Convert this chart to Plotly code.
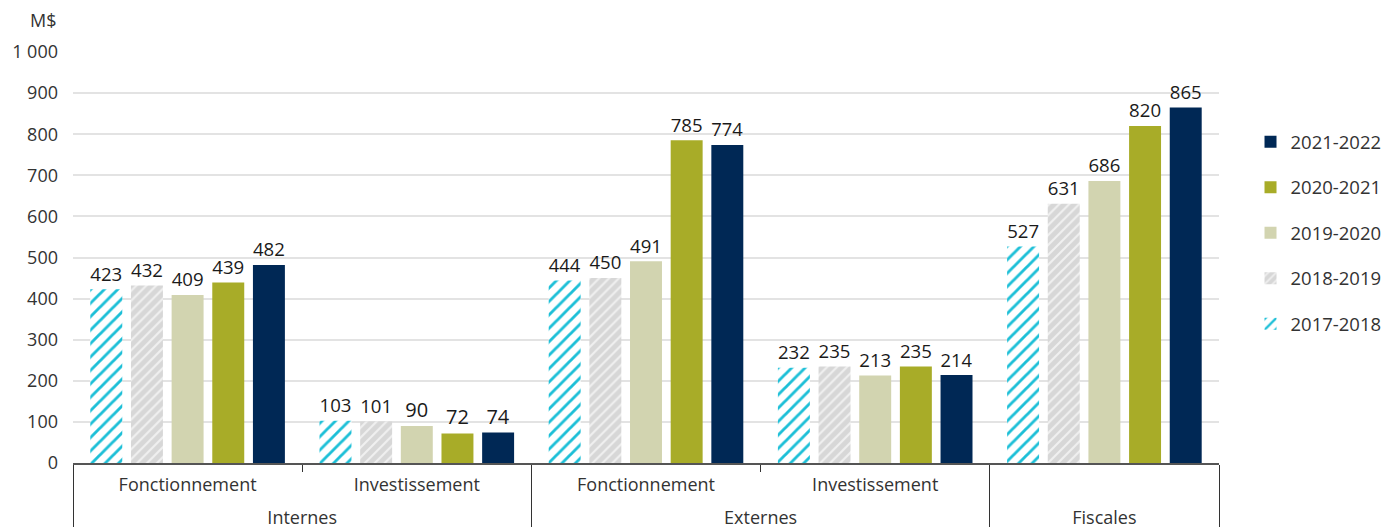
import plotly.graph_objects as go

groups = ["Internes", "Internes", "Externes", "Externes", "Fiscales"]
subcats = ["Fonctionnement", "Investissement", "Fonctionnement", "Investissement",
           "<span style='font-size:26px'>\u00a0</span>"]

series_names = ["2017-2018", "2018-2019", "2019-2020", "2020-2021", "2021-2022"]
v2017 = [423, 103, 444, 232, 527]
v2018 = [432, 101, 450, 235, 631]
v2019 = [409, 90, 491, 213, 686]
v2020 = [439, 72, 785, 235, 820]
v2021 = [482, 74, 774, 214, 865]
values = [v2017, v2018, v2019, v2020, v2021]

y_ticks = [0, 100, 200, 300, 400, 500, 600, 700, 800, 900, 1000]
y_ticktext = ["0", "100", "200", "300", "400", "500", "600", "700", "800", "900", "1 000"]

styles = [
    dict(color="white", pattern=dict(shape="/", fgcolor="#1CBFD7", bgcolor="white", size=9.5, solidity=0.3, fillmode="replace")),
    dict(color="#D9D9D9", pattern=dict(shape="/", fgcolor="#F0F0F0", bgcolor="#D7D7D7", size=7, solidity=0.3, fillmode="replace")),
    dict(color="#D2D4B0"),
    dict(color="#A8AC28"),
    dict(color="#002855"),
]

FONT = "Open Sans, Noto Sans, sans-serif"

fig = go.Figure()
for i, (name, vals) in enumerate(zip(series_names, values)):
    fig.add_trace(go.Bar(
        name=name,
        x=[groups, subcats],
        y=vals,
        marker=styles[i],
        marker_line=dict(width=10, color="rgba(0,0,0,0)"),
        text=[str(v) for v in vals],
        textposition="outside",
        textfont=dict(size=20, color="#1a1a1a", family=FONT),
        cliponaxis=False,
        legendgroup=name,
        legendrank=len(series_names) - i,
    ))

fig.update_layout(
    width=1384, height=527,
    margin=dict(l=73, r=165, t=52, b=64, autoexpand=False),
    paper_bgcolor="white", plot_bgcolor="white",
    barmode="group", bargap=0.113, bargroupgap=0.214,
    font=dict(family=FONT, size=18, color="#333333"),
    showlegend=True,
    legend=dict(x=1.0275, y=0.827, xanchor="left", yanchor="top",
                traceorder="grouped", tracegroupgap=18.5,
                font=dict(size=18.5, color="#333333"), itemwidth=30),
)
fig.update_yaxes(range=[0, 1000], tickvals=y_ticks, ticktext=y_ticktext,
                 showgrid=True, gridcolor="#E3E3E3", gridwidth=1.5,
                 zeroline=False, showline=False, ticks="", ticklabelstandoff=14,
                 tickfont=dict(size=18, color="#333333"), automargin=False)
fig.update_xaxes(type="multicategory", showline=True, linecolor="#555555", linewidth=1.5,
                 ticks="outside", tickson="boundaries", ticklen=7, tickcolor="#333333",
                 showdividers=True, dividercolor="#333333", dividerwidth=1,
                 ticklabelstandoff=5,
                 tickfont=dict(size=18, color="#333333"), showgrid=False, automargin=False)
fig.add_annotation(text="M$", xref="paper", yref="paper", x=-0.039, y=1.078,
                   xanchor="left", yanchor="middle", showarrow=False,
                   font=dict(size=18, color="#333333"))
fig.write_html("out.html", config={"displayModeBar": False},
               post_script="document.body.style.margin='0';")
